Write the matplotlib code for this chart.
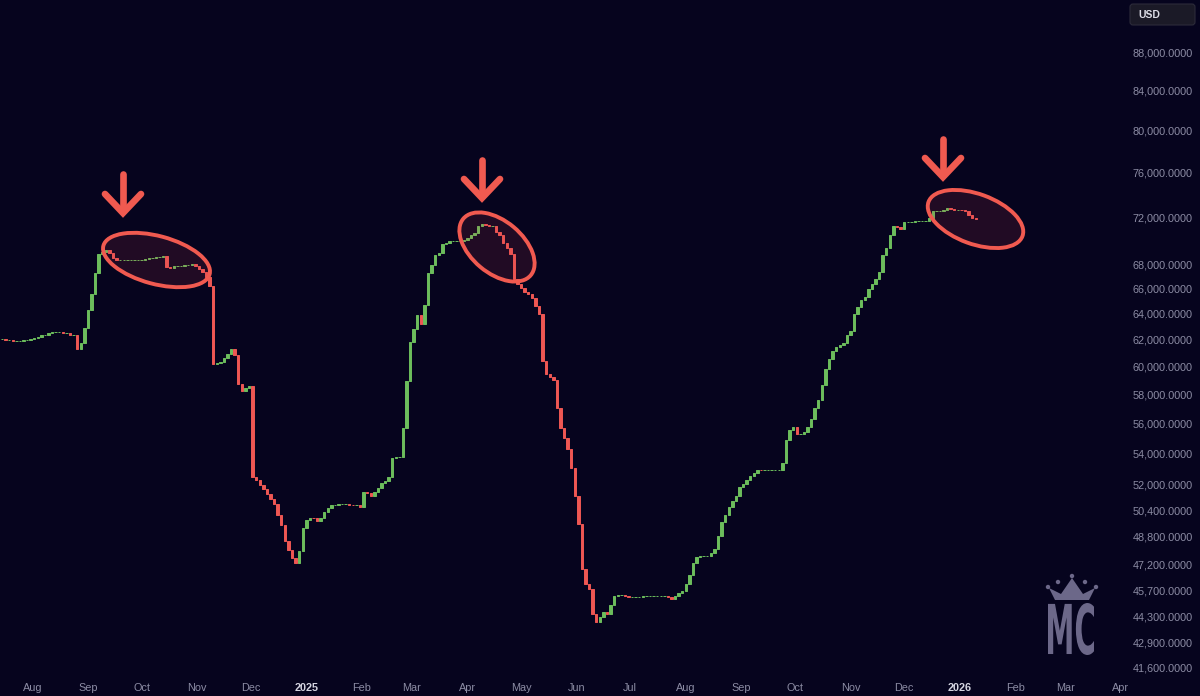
import matplotlib
matplotlib.use("Agg")
import matplotlib.pyplot as plt
import matplotlib.dates as mdates
import matplotlib.ticker as mticker
from matplotlib.patches import Ellipse, FancyBboxPatch, PathPatch, Polygon, Circle
from matplotlib.textpath import TextPath
from matplotlib.font_manager import FontProperties
from matplotlib.transforms import Affine2D
import numpy as np
import pandas as pd

# fechamentos a cada 2 dias, a partir de 15/07/2024
inicio = "2024-07-15"
fechamentos = [
    62100, 62000, 62000, 61900, 61900, 61900, 62000, 62000, 62100, 62150,
    62200, 62350, 62400, 62500, 62600, 62600, 62600, 62500, 62500, 62400,
    62400, 61300, 61800, 62900, 64300, 65600, 67300, 68800, 69000, 69200,
    68900, 68500, 68300, 68300, 68300, 68300, 68300, 68300, 68300, 68350,
    68400, 68500, 68500, 68600, 68600, 68650, 67750, 67700, 67800, 67850,
    67850, 67950, 67950, 68000, 67850, 67600, 67350, 66900, 66200, 60200,
    60250, 60350, 60650, 60950, 61300, 60900, 58800, 58300, 58500, 58600,
    52500, 52300, 52000, 51700, 51400, 51100, 50800, 50100, 49500, 48550,
    48000, 47550, 47250, 47950, 49300, 49800, 49950, 49900, 49750, 49950,
    50300, 50550, 50700, 50750, 50800, 50800, 50800, 50750, 50700, 50700,
    50600, 51500, 51450, 51250, 51500, 51800, 52100, 52200, 52500, 53700,
    53800, 53800, 55700, 59000, 61850, 62800, 63900, 63200, 64700, 67300,
    67950, 68750, 68950, 69650, 69800, 69900, 69900, 69900, 69900, 70000,
    70150, 70400, 70600, 71250, 71350, 71300, 71250, 71250, 70700, 70450,
    69750, 69350, 68850, 66750, 66400, 66050, 65700, 65600, 65250, 64650,
    63950, 60400, 59500, 59250, 59050, 57100, 55700, 55050, 54300, 53050,
    51300, 49550, 46900, 46050, 45800, 44450, 44000, 44250, 44550, 44450,
    44900, 45400, 45450, 45450, 45400, 45350, 45350, 45350, 45350, 45400,
    45400, 45400, 45400, 45400, 45400, 45400, 45350, 45250, 45400, 45600,
    45700, 46050, 46600, 47250, 47600, 47650, 47700, 47700, 47850, 48050,
    48850, 49700, 50100, 50600, 51000, 51300, 51850, 52050, 52300, 52550,
    52750, 52950, 52900, 52900, 52900, 52900, 52900, 52950, 53400, 54900,
    55550, 55800, 55300, 55300, 55450, 55800, 56300, 57050, 57650, 58700,
    59850, 60600, 61200, 61500, 61650, 61800, 62400, 62650, 64000, 64500,
    65050, 65350, 66000, 66400, 66800, 67350, 68750, 69350, 70400, 71250,
    71100, 71000, 71550, 71550, 71600, 71650, 71650, 71650, 71650, 71900,
    72500, 72500, 72550, 72600, 72750, 72700, 72650, 72650, 72600, 72500,
    72150, 71900, 71800,
]

precos_eixo = [88000, 84000, 80000, 76000, 72000, 68000, 66000, 64000, 62000,
               60000, 58000, 56000, 54000, 52000, 50400, 48800, 47200, 45700,
               44300, 42900, 41600]

meses = ["2024-08-01", "2024-09-01", "2024-10-01", "2024-11-01", "2024-12-01",
         "2025-01-01", "2025-02-01", "2025-03-01", "2025-04-01", "2025-05-01",
         "2025-06-01", "2025-07-01", "2025-08-01", "2025-09-01", "2025-10-01",
         "2025-11-01", "2025-12-01", "2026-01-01", "2026-02-01", "2026-03-01",
         "2026-04-01"]
rotulos_meses = ["Aug", "Sep", "Oct", "Nov", "Dec", "2025", "Feb", "Mar", "Apr",
                 "May", "Jun", "Jul", "Aug", "Sep", "Oct", "Nov", "Dec", "2026",
                 "Feb", "Mar", "Apr"]

fundo = "#06041e"
verde = "#6cbd5c"
vermelho = "#ee5753"
destaque = "#f05a50"
cinza = "#8c8ca4"

datas = pd.date_range(inicio, periods=len(fechamentos), freq="2D")
xs = mdates.date2num(datas)
aberturas = [fechamentos[0]] + fechamentos[:-1]
fech = np.array(fechamentos, dtype=float)
abre = np.array(aberturas, dtype=float)
cores = [verde if c >= o else vermelho for o, c in zip(abre, fech)]

fig = plt.figure(figsize=(12, 6.96), dpi=100, facecolor=fundo)
ax = fig.add_axes([0, 20 / 696, 1, 676 / 696])
ax.set_facecolor(fundo)

t0 = pd.Timestamp(inicio)
ax.set_xlim(t0 - pd.Timedelta(days=2 / 1.79), t0 + pd.Timedelta(days=1198 / 1.79))
ax.set_yscale("log")
ax.set_ylim(41197, 93750)

ax.bar(xs, np.abs(fech - abre), bottom=np.minimum(abre, fech), width=1.35,
       color=cores, edgecolor=cores, linewidth=0.7, zorder=3)

# eixo de preço à direita
ax.yaxis.tick_right()
ax.set_yticks(precos_eixo)
ax.set_yticklabels([f"{p:,.4f}" for p in precos_eixo])
ax.yaxis.set_minor_locator(mticker.NullLocator())
ax.yaxis.set_minor_formatter(mticker.NullFormatter())
ax.tick_params(axis="y", length=0, pad=-48.5, labelsize=7.8, labelcolor=cinza)

ax.set_xticks(mdates.date2num(pd.to_datetime(meses)))
ax.set_xticklabels(rotulos_meses)
ax.tick_params(axis="x", length=0, pad=5, labelsize=7.8, labelcolor=cinza)
for lbl in ax.get_xticklabels():
    lbl.set_fontfamily("Liberation Sans")
    if lbl.get_text() in ("2025", "2026"):
        lbl.set_fontweight("bold")
        lbl.set_color("#d4d4e0")
for lbl in ax.get_yticklabels():
    lbl.set_fontfamily("Liberation Sans")

for s in ax.spines.values():
    s.set_visible(False)

# camada de anotações em pixels
ov = fig.add_axes([0, 0, 1, 1])
ov.set_xlim(0, 1200)
ov.set_ylim(696, 0)
ov.axis("off")
ov.patch.set_alpha(0)

elipses = [(156.5, 260, 110, 48, 15), (497, 247, 88, 52, 40), (975.5, 219, 100, 50, 20)]
for cx, cy, w, h, ang in elipses:
    ov.add_patch(Ellipse((cx, cy), w, h, angle=ang, facecolor=(0.85, 0.25, 0.3, 0.13),
                         edgecolor=destaque, linewidth=2.8))

setas = [(123, 174, 213), (482, 160, 198), (943, 139, 177)]
for sx, topo, ponta in setas:
    ov.plot([sx, sx], [topo, ponta - 2], color=destaque, lw=4.8, solid_capstyle="round")
    ov.plot([sx - 18, sx, sx + 18], [ponta - 19, ponta, ponta - 19], color=destaque,
            lw=4.8, solid_capstyle="round", solid_joinstyle="miter")

# caixa USD
ov.add_patch(FancyBboxPatch((1130, 4), 65, 21, boxstyle="round,pad=0,rounding_size=3",
                            facecolor="#1b1a27", edgecolor="#2c2b3a", linewidth=0.8))
ov.text(1138, 14.5, "USD", color="#dcdce6", fontsize=7.5, fontweight="bold",
        va="center", ha="left", family="Liberation Sans")

# marca d'água MC
logo = "#6c6889"
tp = TextPath((0, 0), "MC", size=50, prop=FontProperties(family="DejaVu Sans", weight="bold"))
bb = tp.get_extents()
sx_ = 46 / bb.width
sy_ = 52 / bb.height
tr = Affine2D().translate(-bb.x0, -bb.y0).scale(sx_, -sy_).translate(1048, 655)
ov.add_patch(PathPatch(tr.transform_path(tp), facecolor=logo, edgecolor="none"))
ov.add_patch(Polygon([(1055, 600), (1049, 588), (1061, 594), (1072, 578), (1083, 594),
                      (1095, 588), (1089, 600)], closed=True, facecolor=logo, edgecolor="none"))
for cx, cy in [(1048, 587), (1058, 582), (1072, 576), (1085, 582), (1096, 587)]:
    ov.add_patch(Circle((cx, cy), 2.2, facecolor=logo, edgecolor="none"))

fig.savefig("out.png", dpi=100, facecolor=fundo)
